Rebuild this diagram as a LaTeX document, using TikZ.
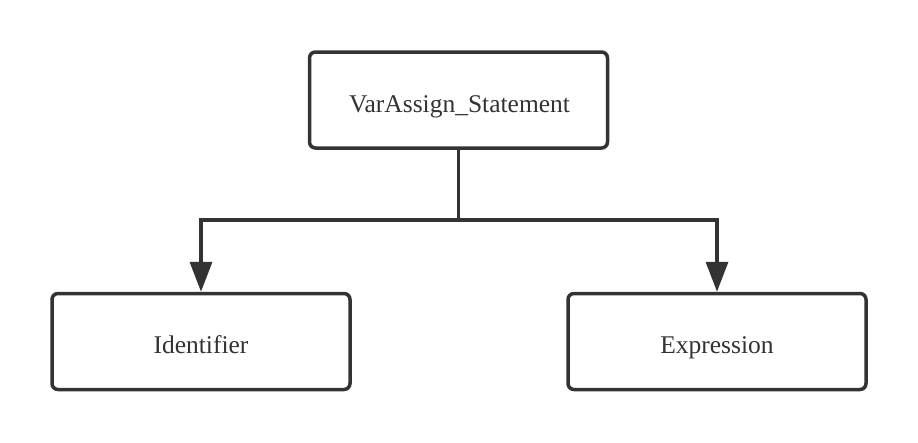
\documentclass[tikz,border=0pt]{standalone}
\usepackage{fontspec}
\setmainfont{Liberation Serif}
\usetikzlibrary{arrows.meta}
\definecolor{ink}{HTML}{333333}
\begin{document}
\begin{tikzpicture}[x=1pt,y=-1pt,
  box/.style={draw=ink,line width=3.5pt,rounded corners=6pt,fill=white,
    minimum width=298pt,minimum height=96pt,inner sep=0pt},
  lbl/.style={anchor=base,inner sep=0pt,text=ink,font=\fontsize{25.5}{28}\selectfont},
  conn/.style={draw=ink,line width=3.5pt},
  arr/.style={conn,-{Triangle[length=30pt,width=22pt]}}]
\useasboundingbox[fill=white] (0,0) rectangle (918,442);
\node[box] (top) at (458.5,100) {};
\node[box] (left) at (201,341.5) {};
\node[box] (right) at (717,341.5) {};
\node[lbl] (toplbl) at (459.5,112) {VarAssign\_Statement};
\node[lbl] (leftlbl) at (201,353) {Identifier};
\node[lbl] (rightlbl) at (717,353) {Expression};
\coordinate (mid) at (458.5,220);
\draw[conn] (top.south) -- (mid);
\draw[arr] (mid) -| (left.north);
\draw[arr] (mid) -| (right.north);
\end{tikzpicture}
\end{document}
